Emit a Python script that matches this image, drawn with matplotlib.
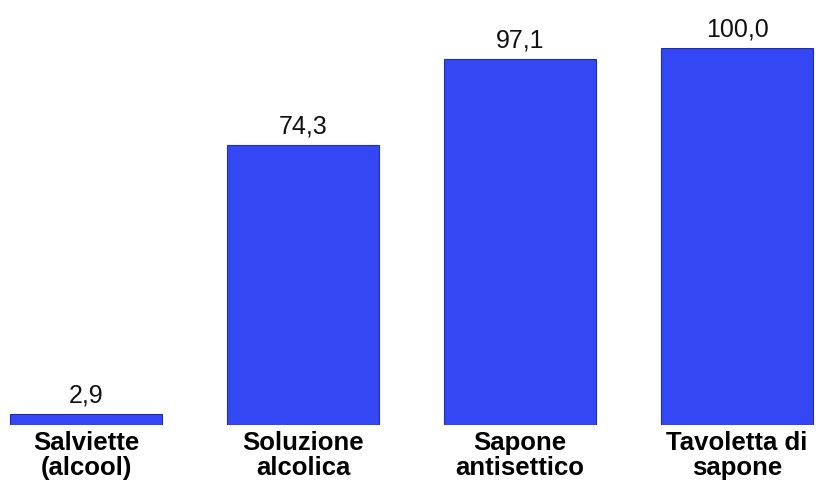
import matplotlib.pyplot as plt

# Dati del grafico
categorie = ["Salviette\n(alcool)", "Soluzione\nalcolica", "Sapone\nantisettico", "Tavoletta di\nsapone"]
valori = [2.9, 74.3, 97.1, 100.0]
etichette = ["2,9", "74,3", "97,1", "100,0"]

plt.rcParams['font.family'] = ['Liberation Sans', 'DejaVu Sans']

fig = plt.figure(figsize=(8.16, 4.83), dpi=100)
ax = fig.add_axes([0, 0.1201, 1, 0.7805])

x = list(range(len(valori)))
bars = ax.bar(x, valori, width=0.70, color="#3347F5", edgecolor="#1F2FA8", linewidth=0.8)

for b, lab in zip(bars, etichette):
    ax.annotate(lab, (b.get_x() + b.get_width() / 2, b.get_height()),
                xytext=(0, 8.5), textcoords="offset points",
                ha="center", va="baseline", fontsize=18, color="#111111")

ax.set_xlim(-0.396, 3.364)
ax.set_ylim(0, 100)
ax.set_xticks(x)
ax.set_xticklabels(categorie, fontsize=18.5, fontweight="bold", linespacing=1.08)
ax.tick_params(axis="x", length=0, pad=4)
ax.set_yticks([])
for s in ax.spines.values():
    s.set_visible(False)

fig.savefig("out.png", dpi=100)
